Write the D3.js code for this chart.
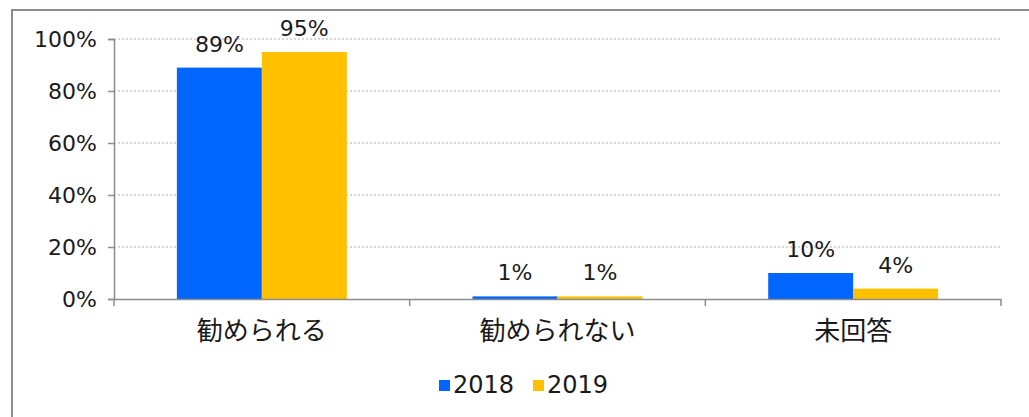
<!DOCTYPE html>
<html><head><meta charset="utf-8">
<script src="https://cdn.jsdelivr.net/npm/d3@7"></script>
<style>body{margin:0;background:#fff}svg{display:block}text{font-family:"DejaVu Sans","Noto Sans CJK JP",sans-serif;fill:#1a1a1a}.jp{font-family:"Noto Sans CJK JP",sans-serif}</style>
</head><body>
<script>
const categories = ["勧められる", "勧められない", "未回答"];
const seriesNames = ["2018", "2019"];
const values2018 = [89, 1, 10];
const values2019 = [95, 1, 4];
const yTicks = [0, 20, 40, 60, 80, 100];
const colors = ["#0066FF", "#FFC000"];

(function () {
const W = 1029, H = 417;
const svg = d3.select("body").append("svg").attr("width", W).attr("height", H);
svg.append("rect").attr("x", 12).attr("y", 10).attr("width", W + 20).attr("height", H + 20)
  .attr("fill", "#fff").attr("stroke", "#8c8c8c").attr("stroke-width", 2);

const mLeft = 114, mRight = 1001, mTop = 39, mBottom = 299;
const x = d3.scaleBand().domain(categories).range([mLeft, mRight]).paddingInner(0).paddingOuter(0);
const xs = d3.scaleBand().domain(seriesNames).range([0, x.bandwidth()]).paddingInner(0).paddingOuter(0.74);
const y = d3.scaleLinear().domain([0, 100]).range([mBottom, mTop]);

svg.append("g").selectAll("line").data(yTicks.filter(d => d > 0)).join("line")
  .attr("x1", mLeft).attr("x2", mRight).attr("y1", d => y(d)).attr("y2", d => y(d))
  .attr("stroke", "#b0b0b0").attr("stroke-width", 1).attr("stroke-dasharray", "2,2");

const data = seriesNames.map((s, i) => ({ name: s, color: colors[i], vals: i === 0 ? values2018 : values2019 }));
const g = svg.append("g");
data.forEach(s => {
  const rows = categories.map((c, j) => ({ c, v: s.vals[j] }));
  g.append("g").selectAll("rect").data(rows).join("rect")
    .attr("x", d => x(d.c) + xs(s.name)).attr("width", xs.bandwidth())
    .attr("y", d => y(d.v)).attr("height", d => y(0) - y(d.v)).attr("fill", s.color);
  g.append("g").selectAll("text").data(rows).join("text")
    .attr("x", d => x(d.c) + xs(s.name) + xs.bandwidth() / 2).attr("y", d => y(d.v) - 16)
    .attr("text-anchor", "middle").attr("font-size", 22).text(d => d.v + "%");
});

const yAxis = svg.append("g").attr("transform", `translate(${mLeft},0)`)
  .call(d3.axisLeft(y).tickValues(yTicks).tickFormat(d => d + "%").tickSize(6).tickPadding(11));
yAxis.selectAll("text").attr("font-size", 22).attr("fill", "#1a1a1a").attr("font-family", "DejaVu Sans");
yAxis.selectAll("line,path").attr("stroke", "#8c8c8c").attr("stroke-width", 1.5);

const xAxis = svg.append("g").attr("transform", `translate(0,${mBottom})`)
  .call(d3.axisBottom(x).tickSize(0).tickPadding(20).tickSizeOuter(0));
xAxis.selectAll("text").attr("font-size", 26).attr("fill", "#1a1a1a")
  .attr("font-family", "Noto Sans CJK JP").attr("y", 41).attr("dy", 0);
xAxis.select("path").attr("stroke", "#8c8c8c").attr("stroke-width", 1.5);
const bounds = categories.map(c => x(c)).concat([x(categories[categories.length - 1]) + x.bandwidth()]);
xAxis.append("g").selectAll("line").data(bounds).join("line")
  .attr("x1", d => d).attr("x2", d => d).attr("y1", 0).attr("y2", 7)
  .attr("stroke", "#8c8c8c").attr("stroke-width", 1.5);

const legend = svg.append("g");
const legX = [439, 533];
data.forEach((s, i) => {
  legend.append("rect").attr("x", legX[i]).attr("y", 380).attr("width", 11).attr("height", 11).attr("fill", s.color);
  legend.append("text").attr("x", legX[i] + 14).attr("y", 393).attr("font-size", 24).text(s.name);
});
})();
</script>
</body></html>
